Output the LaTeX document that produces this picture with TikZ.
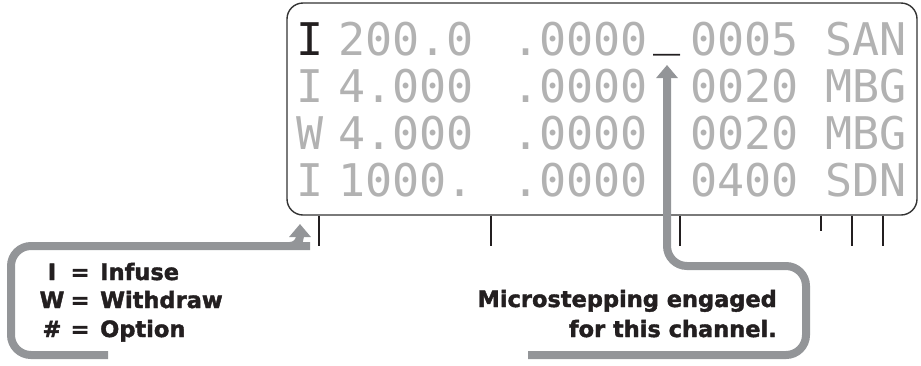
\documentclass[tikz,border=0pt]{standalone}
\usepackage{fontspec}
\setmainfont{Liberation Sans}
\newfontfamily\lcdfont{DejaVu Sans Mono}
\newfontfamily\heavyfont{DejaVu Sans Bold}[FakeBold=1.8]
\usepackage{tikz}
\usetikzlibrary{arrows.meta,positioning}
\definecolor{lcdgray}{HTML}{B2B2B2}
\definecolor{pipegray}{HTML}{939598}
\definecolor{inkblack}{HTML}{231F20}

\begin{document}
\begin{tikzpicture}[x=1pt,y=-1pt,
  lcd/.style={font=\lcdfont\fontsize{45}{45}\selectfont,text=lcdgray,inner sep=0pt},
  legend/.style={font=\heavyfont\fontsize{22.5}{22.5}\selectfont,text=inkblack,inner sep=0pt},
  pipe/.style={draw=pipegray,line width=8pt,-{Triangle[width=21pt,length=13pt]}},
  tick/.style={draw=inkblack,line width=1.4pt}]
\useasboundingbox (0,0) rectangle (921,365);
% the display panel
\node[draw=black!80,line width=1.4pt,rounded corners=16pt,minimum width=630pt,minimum height=212pt] (lcd) at (602,109) {};
\node[lcd,anchor=base west,text=inkblack] (m1) at (296,55) {I};
\node[lcd,anchor=base west] (m2) at (296,102) {I};
\node[lcd,anchor=base west] (m3) at (296,149) {W};
\node[lcd,anchor=base west] (m4) at (296,196) {I};
\node[lcd,anchor=base east] (r1) at (474,55) {200.0};
\node[lcd,anchor=base east] (r2) at (474,102) {4.000};
\node[lcd,anchor=base east] (r3) at (474,149) {4.000};
\node[lcd,anchor=base east] (r4) at (474,196) {1000.};
\node[lcd,anchor=base west] (v1) at (512,55) {.0000};
\node[lcd,anchor=base west] (v2) at (512,102) {.0000};
\node[lcd,anchor=base west] (v3) at (512,149) {.0000};
\node[lcd,anchor=base west] (v4) at (512,196) {.0000};
\node[lcd,anchor=base west,text=inkblack] (under) at (653,45) {\_};
\node[lcd,anchor=base west] (d1) at (690,55) {0005};
\node[lcd,anchor=base west] (d2) at (690,102) {0020};
\node[lcd,anchor=base west] (d3) at (690,149) {0020};
\node[lcd,anchor=base west] (d4) at (690,196) {0400};
\node[lcd,anchor=base west] (s1) at (825,55) {SAN};
\node[lcd,anchor=base west] (s2) at (825,102) {MBG};
\node[lcd,anchor=base west] (s3) at (825,149) {MBG};
\node[lcd,anchor=base west] (s4) at (825,196) {SDN};
% ticks under the panel
\draw[tick] (319,0 |- lcd.south) -- ++(0,30);
\draw[tick] (491,0 |- lcd.south) -- ++(0,30);
\draw[tick] (680,0 |- lcd.south) -- ++(0,30);
\draw[tick] (821,0 |- lcd.south) -- ++(0,15);
\draw[tick] (852,0 |- lcd.south) -- ++(0,30);
\draw[tick] (883,0 |- lcd.south) -- ++(0,30);
% legend
\node[legend,anchor=base] (k1) at (52,280) {I};
\node[legend,anchor=base] (k2) at (52,308) {W};
\node[legend,anchor=base] (k3) at (52,337) {\#};
\node[legend,anchor=base] (e1) at (80,280) {=};
\node[legend,anchor=base] (e2) at (80,308) {=};
\node[legend,anchor=base] (e3) at (80,337) {=};
\node[legend,anchor=base west] (w1) at (100,280) {Infuse};
\node[legend,anchor=base west] (w2) at (100,308) {Withdraw};
\node[legend,anchor=base west] (w3) at (100,337) {Option};
\node[legend,anchor=base east] (msg1) at (777,307) {Microstepping engaged};
\node[legend,anchor=base east] (msg2) at (777,337) {for this channel.};
% the two grey pointers
\coordinate (tailL) at (108,355);
\coordinate (tipL) at (300,224);
\coordinate (tailR) at (528,355);
\coordinate (tipR) at (667,65);
\draw[pipe,rounded corners=20pt] (tailL) -| (11,246) -- (290,246) [rounded corners=10pt] -| (tipL);
\draw[pipe,rounded corners=20pt] (tailR) -| (806,266) -| (tipR);
\end{tikzpicture}
\end{document}
